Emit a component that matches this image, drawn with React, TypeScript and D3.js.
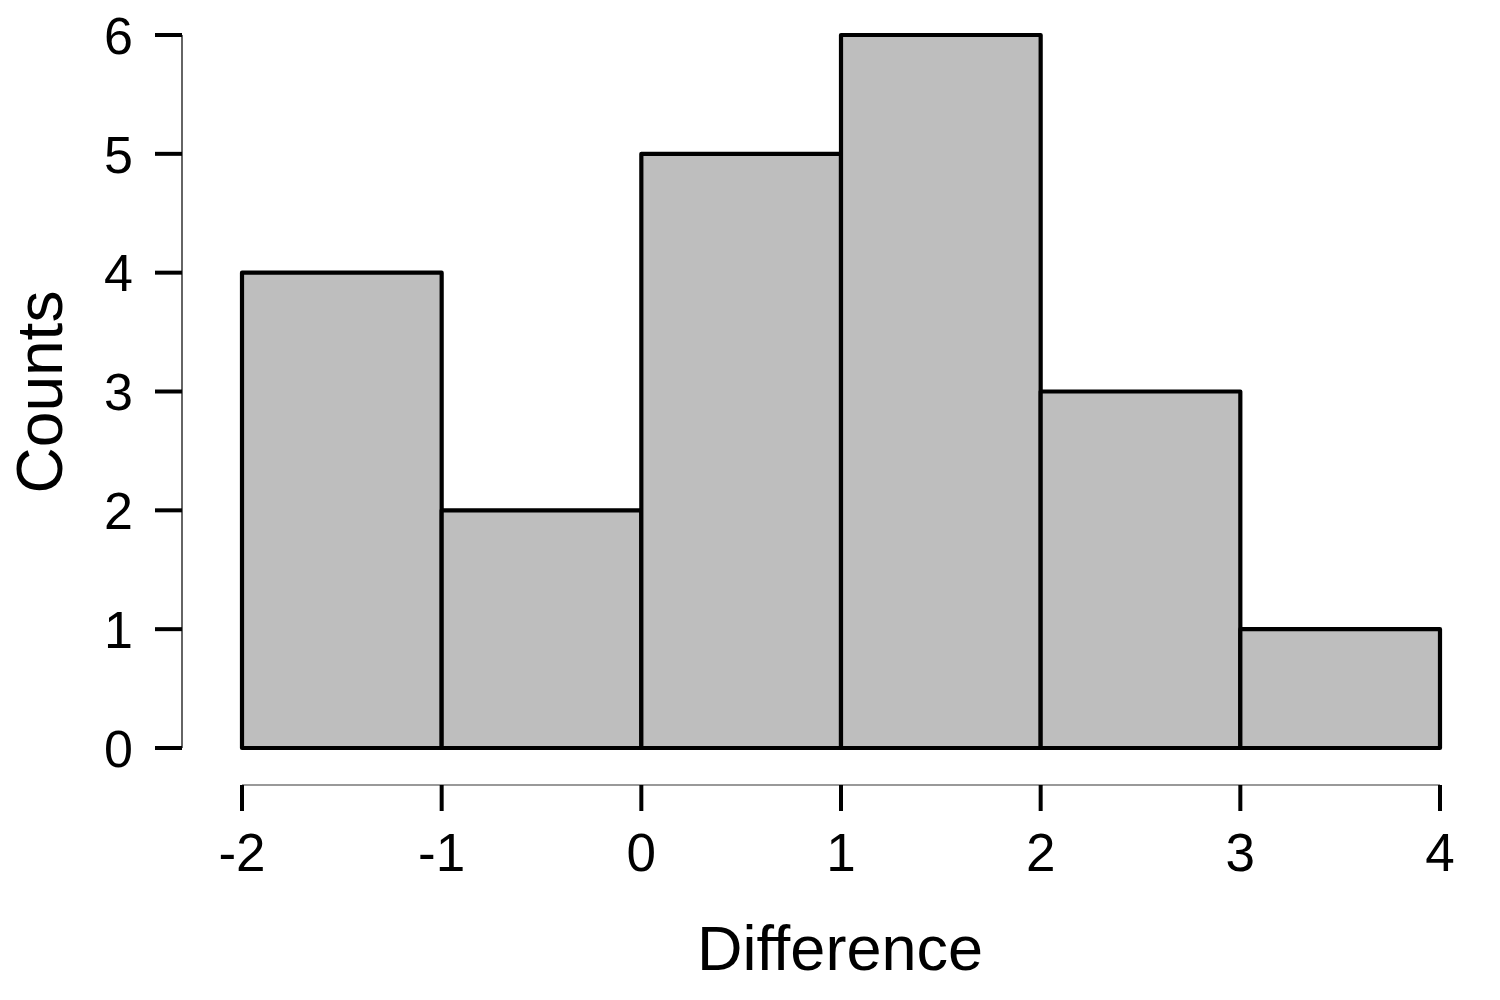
import React, { useEffect, useRef } from "react";
import * as d3 from "d3";

// histogram bins: left edge of each bar and its count
const binStarts = [-2, -1, 0, 1, 2, 3];
const binWidth = 1;
const counts = [4, 2, 5, 6, 3, 1];
const xTicks = [-2, -1, 0, 1, 2, 3, 4];
const yTicks = [0, 1, 2, 3, 4, 5, 6];

const W = 1500;
const H = 1000;
const FONT = "Liberation Sans, Arial, sans-serif";

const App = () => {
  const ref = useRef<SVGSVGElement | null>(null);

  useEffect(() => {
    const svg = d3.select(ref.current);
    svg.selectAll("*").remove();

    const x = d3.scaleLinear().domain([-2, 4]).range([242, 1440]);
    const y = d3.scaleLinear().domain([0, 6]).range([748, 35]);

    // bars
    svg
      .append("g")
      .selectAll("rect")
      .data(counts)
      .enter()
      .append("rect")
      .attr("x", (d, i) => x(binStarts[i]))
      .attr("width", (d, i) => x(binStarts[i] + binWidth) - x(binStarts[i]))
      .attr("y", (d) => y(d))
      .attr("height", (d) => y(0) - y(d))
      .attr("fill", "#bebebe")
      .attr("stroke", "#000")
      .attr("stroke-width", 4.2)
      .attr("stroke-linejoin", "round");

    // y axis
    const yAxisX = 182;
    const gy = svg.append("g");
    gy.append("line")
      .attr("x1", yAxisX)
      .attr("x2", yAxisX)
      .attr("y1", y(6))
      .attr("y2", y(0))
      .attr("stroke", "#111")
      .attr("stroke-width", 1.3);
    gy.selectAll("line.tick")
      .data(yTicks)
      .enter()
      .append("line")
      .attr("class", "tick")
      .attr("x1", 155)
      .attr("x2", yAxisX)
      .attr("y1", (d) => y(d))
      .attr("y2", (d) => y(d))
      .attr("stroke", "#000")
      .attr("stroke-width", 4);
    gy.selectAll("text")
      .data(yTicks)
      .enter()
      .append("text")
      .attr("x", 133)
      .attr("y", (d) => y(d))
      .attr("dy", "0.36em")
      .attr("text-anchor", "end")
      .attr("font-family", FONT)
      .attr("font-size", 52)
      .text((d) => d);

    // x axis
    const xAxisY = 785;
    const gx = svg.append("g");
    gx.append("line")
      .attr("x1", x(-2))
      .attr("x2", x(4))
      .attr("y1", xAxisY)
      .attr("y2", xAxisY)
      .attr("stroke", "#777")
      .attr("stroke-width", 1.5);
    gx.selectAll("line.tick")
      .data(xTicks)
      .enter()
      .append("line")
      .attr("class", "tick")
      .attr("x1", (d) => x(d))
      .attr("x2", (d) => x(d))
      .attr("y1", xAxisY)
      .attr("y2", 811)
      .attr("stroke", "#000")
      .attr("stroke-width", 4);
    gx.selectAll("text")
      .data(xTicks)
      .enter()
      .append("text")
      .attr("x", (d) => x(d))
      .attr("y", 871)
      .attr("text-anchor", "middle")
      .attr("font-family", FONT)
      .attr("font-size", 53)
      .text((d) => d);

    // axis titles
    svg
      .append("text")
      .attr("x", 840)
      .attr("y", 970)
      .attr("text-anchor", "middle")
      .attr("font-family", FONT)
      .attr("font-size", 63)
      .text("Difference");
    svg
      .append("text")
      .attr("transform", "translate(62, 392) rotate(-90)")
      .attr("text-anchor", "middle")
      .attr("font-family", FONT)
      .attr("font-size", 64)
      .text("Counts");
  }, []);

  return (
    <svg
      ref={ref}
      width={W}
      height={H}
      style={{ position: "absolute", left: 0, top: 0, background: "white" }}
    />
  );
};

export default App;
